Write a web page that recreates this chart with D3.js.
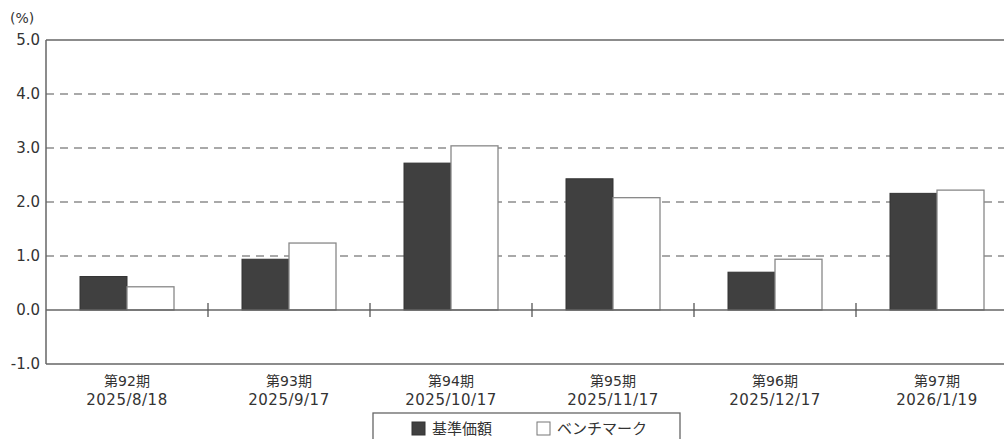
<!DOCTYPE html>
<html>
<head>
<meta charset="utf-8">
<script src="https://cdn.jsdelivr.net/npm/d3@7"></script>
<style>
  body { margin: 0; background: #fff; overflow: hidden; }
  text { font-family: "DejaVu Sans", "Noto Sans CJK JP", sans-serif; fill: #333; }
  .jp { font-family: "Noto Sans CJK JP", sans-serif; }
</style>
</head>
<body>
<script>
const periods = ["第92期", "第93期", "第94期", "第95期", "第96期", "第97期"];
const dates = ["2025/8/18", "2025/9/17", "2025/10/17", "2025/11/17", "2025/12/17", "2026/1/19"];
const fundValues = [0.62, 0.94, 2.72, 2.43, 0.70, 2.16];
const benchValues = [0.43, 1.24, 3.04, 2.08, 0.94, 2.22];
const yTicks = [-1, 0, 1, 2, 3, 4, 5];
const seriesNames = ["基準価額", "ベンチマーク"];

function main(){
    const canvasWidth = 1004;
    const canvasHeight = 439;

    const svg = d3.select("body").append("svg")
        .attr("width", canvasWidth)
        .attr("height", canvasHeight);

    // plot area runs off the right edge, like the reference
    const left = 46, top = 40, plotW = 972, plotH = 324;

    let xScale = d3.scaleBand().domain(periods).range([left, left + plotW]).paddingInner(0).paddingOuter(0);
    let yScale = d3.scaleLinear().domain([-1, 5]).range([top + plotH, top]);
    const barW = 47;

    // gridlines
    svg.selectAll(".grid")
        .data(yTicks.filter(d => d > 0 && d < 5))
        .enter().append("line")
        .attr("x1", left).attr("x2", left + plotW)
        .attr("y1", d => yScale(d)).attr("y2", d => yScale(d))
        .attr("stroke", "#555")
        .attr("stroke-width", 1.2)
        .attr("stroke-dasharray", "8,6");

    // frame lines top / bottom
    [5, -1].forEach(v => {
        svg.append("line")
            .attr("x1", left).attr("x2", left + plotW)
            .attr("y1", yScale(v)).attr("y2", yScale(v))
            .attr("stroke", "#666").attr("stroke-width", 1.5);
    });

    // bars
    const g = svg.append("g");
    g.selectAll(".fund")
        .data(fundValues)
        .enter().append("rect")
        .attr("x", (d, i) => xScale(periods[i]) + xScale.bandwidth() / 2 - barW)
        .attr("y", d => yScale(Math.max(d, 0)))
        .attr("width", barW)
        .attr("height", d => Math.abs(yScale(d) - yScale(0)))
        .attr("fill", "#404040")
        .attr("stroke", "#333")
        .attr("stroke-width", 1);

    g.selectAll(".bench")
        .data(benchValues)
        .enter().append("rect")
        .attr("x", (d, i) => xScale(periods[i]) + xScale.bandwidth() / 2)
        .attr("y", d => yScale(Math.max(d, 0)))
        .attr("width", barW)
        .attr("height", d => Math.abs(yScale(d) - yScale(0)))
        .attr("fill", "#fff")
        .attr("stroke", "#888")
        .attr("stroke-width", 1.3);

    // zero line with separators
    svg.append("line")
        .attr("x1", left).attr("x2", left + plotW)
        .attr("y1", yScale(0)).attr("y2", yScale(0))
        .attr("stroke", "#666").attr("stroke-width", 1.5);

    svg.selectAll(".sep")
        .data(periods.slice(1))
        .enter().append("line")
        .attr("x1", d => xScale(d)).attr("x2", d => xScale(d))
        .attr("y1", yScale(0) - 7).attr("y2", yScale(0) + 7)
        .attr("stroke", "#555").attr("stroke-width", 1.3);

    // y axis
    svg.append("line")
        .attr("x1", left).attr("x2", left)
        .attr("y1", top).attr("y2", top + plotH)
        .attr("stroke", "#666").attr("stroke-width", 1.5);

    svg.selectAll(".ylab")
        .data(yTicks)
        .enter().append("text")
        .attr("x", 40)
        .attr("y", d => yScale(d))
        .attr("dy", "0.36em")
        .attr("text-anchor", "end")
        .attr("font-size", "15px")
        .text(d => d.toFixed(1));

    svg.append("text")
        .attr("x", 10).attr("y", 23)
        .attr("font-size", "14px")
        .text("(%)");

    // x labels
    svg.selectAll(".xlab1")
        .data(periods)
        .enter().append("text")
        .attr("x", d => xScale(d) + xScale.bandwidth() / 2)
        .attr("y", 386)
        .attr("text-anchor", "middle")
        .attr("font-size", "14px")
        .text(d => d);

    svg.selectAll(".xlab2")
        .data(dates)
        .enter().append("text")
        .attr("x", (d, i) => xScale(periods[i]) + xScale.bandwidth() / 2)
        .attr("y", 405)
        .attr("text-anchor", "middle")
        .attr("font-size", "15px")
        .attr("letter-spacing", "0.5px")
        .text(d => d);

    // legend
    const lg = svg.append("g");
    lg.append("rect")
        .attr("x", 373).attr("y", 413)
        .attr("width", 307).attr("height", 40)
        .attr("fill", "#fff")
        .attr("stroke", "#666").attr("stroke-width", 1.3);

    const legendX = [412, 537];
    seriesNames.forEach((name, i) => {
        lg.append("rect")
            .attr("x", legendX[i]).attr("y", 422)
            .attr("width", 13).attr("height", 13)
            .attr("fill", i == 0 ? "#404040" : "#fff")
            .attr("stroke", i == 0 ? "#333" : "#777")
            .attr("stroke-width", 1);
        lg.append("text")
            .attr("class", "jp")
            .attr("x", legendX[i] + 20).attr("y", 434)
            .attr("font-size", "15px")
            .text(name);
    });
}
main();
</script>
</body>
</html>
